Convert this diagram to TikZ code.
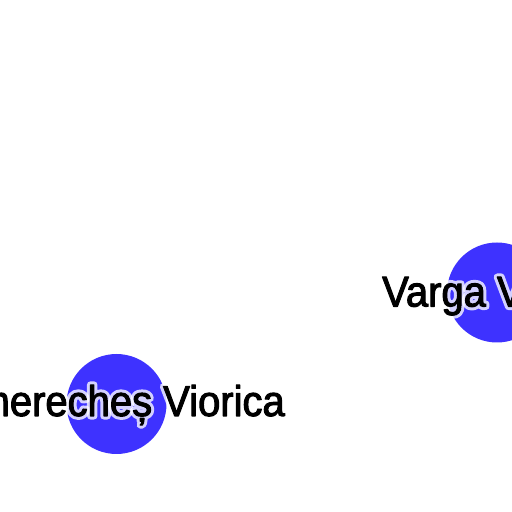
\documentclass[tikz,border=0pt]{standalone}
\usepackage{fontspec}
\setmainfont{Liberation Sans}[FakeStretch=0.93]
\definecolor{nodeblue}{RGB}{62,50,255}
\newcommand{\halotext}[1]{\special{pdf:literal direct 1 Tr 7 w 1 1 1 RG 1 j}#1\special{pdf:literal direct 0 Tr}}
\newcommand{\heavytext}[1]{\special{pdf:literal direct 2 Tr 1 w 0 0 0 RG 1 j}#1\special{pdf:literal direct 0 Tr}}
\begin{document}
\begin{tikzpicture}[x=1pt,y=1pt,
  person/.style={circle,fill=nodeblue,minimum size=100pt,inner sep=0pt},
  lbl/.style={font=\fontsize{43}{43}\selectfont,inner sep=0pt,text=black},
  halo/.style={lbl,opacity=0.78}]
\useasboundingbox (0,0) rectangle (512,512);
\clip (0,0) rectangle (512,512);
\node[person] (p1) at (116.5,108) {};
\node[halo,anchor=base east] (h1) at (285,96) {\halotext{Cimerecheș Viorica}};
\node[lbl,anchor=base east] (t1) at (285,96) {\heavytext{Cimerecheș Viorica}};
\node[person] (p2) at (497,219.5) {};
\node[halo,anchor=base west] (h2) at (382,205.5) {\halotext{Varga Vasile}};
\node[lbl,anchor=base west] (t2) at (382,205.5) {\heavytext{Varga Vasile}};
\end{tikzpicture}
\end{document}
